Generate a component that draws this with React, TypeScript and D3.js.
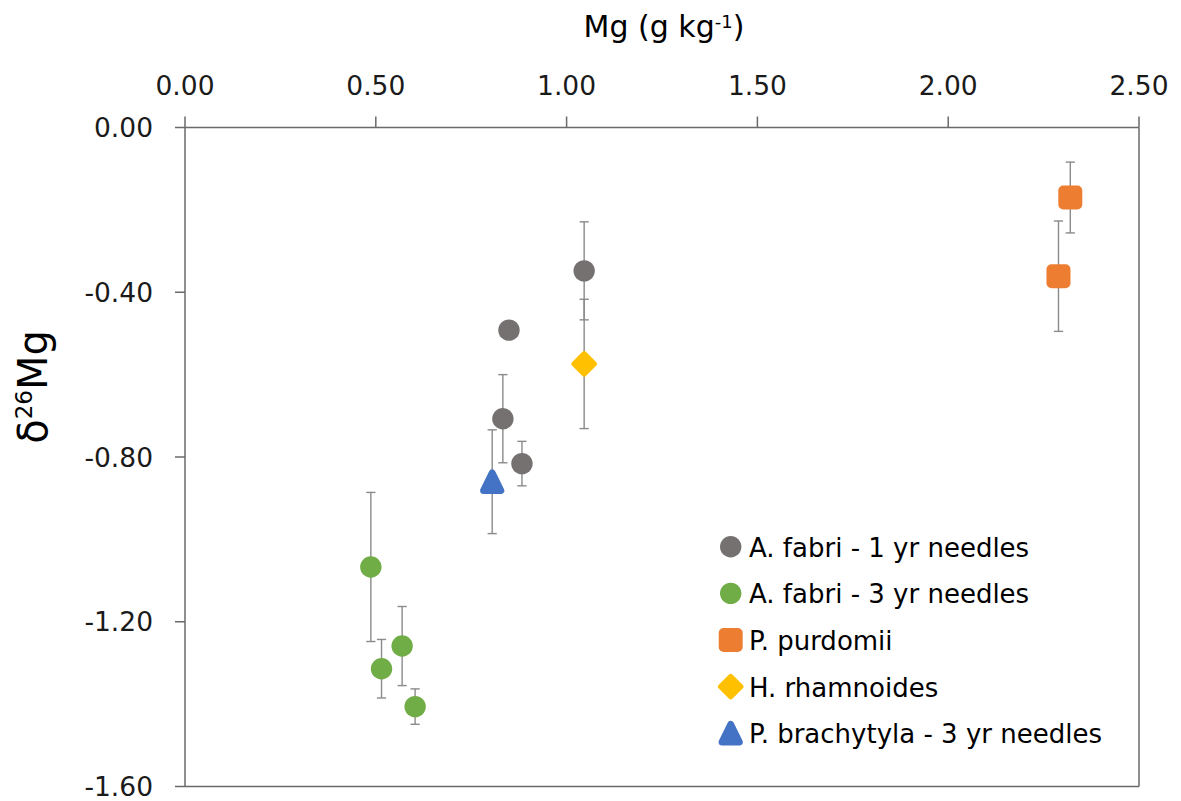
import React from "react";
import * as d3 from "d3";

// Mg concentration (g kg-1) and δ26Mg with ± uncertainty, per species
const fabri1Mg = [1.046, 0.849, 0.833, 0.883];
const fabri1D = [-0.348, -0.492, -0.707, -0.816];
const fabri1Err = [0.119, 0, 0.107, 0.054];

const fabri3Mg = [0.487, 0.515, 0.569, 0.603];
const fabri3D = [-1.067, -1.314, -1.259, -1.406];
const fabri3Err = [0.181, 0.071, 0.096, 0.043];

const purdomiiMg = [2.32, 2.289];
const purdomiiD = [-0.17, -0.361];
const purdomiiErr = [0.086, 0.134];

const rhamnoidesMg = [1.046];
const rhamnoidesD = [-0.574];
const rhamnoidesErr = [0.157];

const brachytylaMg = [0.805];
const brachytylaD = [-0.86];
const brachytylaErr = [0.126];

const xTicks = [0, 0.5, 1.0, 1.5, 2.0, 2.5];
const yTicks = [0, -0.4, -0.8, -1.2, -1.6];

type Shape = "circle" | "square" | "diamond" | "triangle";

const series: {
  name: string;
  color: string;
  shape: Shape;
  mg: number[];
  d: number[];
  err: number[];
}[] = [
  { name: "A. fabri - 1 yr needles", color: "#767171", shape: "circle", mg: fabri1Mg, d: fabri1D, err: fabri1Err },
  { name: "A. fabri - 3 yr needles", color: "#70AD47", shape: "circle", mg: fabri3Mg, d: fabri3D, err: fabri3Err },
  { name: "P. purdomii", color: "#ED7D31", shape: "square", mg: purdomiiMg, d: purdomiiD, err: purdomiiErr },
  { name: "H. rhamnoides", color: "#FFC000", shape: "diamond", mg: rhamnoidesMg, d: rhamnoidesD, err: rhamnoidesErr },
  { name: "P. brachytyla - 3 yr needles", color: "#4472C4", shape: "triangle", mg: brachytylaMg, d: brachytylaD, err: brachytylaErr },
];

const FONT = "'DejaVu Sans', sans-serif";
const AXIS = "#6a6a6a";
const ERR = "#8a8a8a";

const x = d3.scaleLinear().domain([0, 2.5]).range([185, 1139]);
const y = d3.scaleLinear().domain([-1.6, 0]).range([786.5, 127.5]);

function Marker({ shape, cx, cy, color }: { shape: Shape; cx: number; cy: number; color: string }) {
  if (shape === "circle") return <circle cx={cx} cy={cy} r={10.7} fill={color} />;
  if (shape === "square")
    return <rect x={cx - 12} y={cy - 12} width={24} height={24} rx={5} fill={color} />;
  if (shape === "diamond") {
    const h = 10;
    const p = `M${cx},${cy - h}L${cx + h},${cy}L${cx},${cy + h}L${cx - h},${cy}Z`;
    return <path d={p} fill={color} stroke={color} strokeWidth={5.5} strokeLinejoin="round" />;
  }
  // rounded triangle
  const p = `M${cx},${cy - 8.8}L${cx + 8.6},${cy + 8.8}L${cx - 8.6},${cy + 8.8}Z`;
  return <path d={p} fill={color} stroke={color} strokeWidth={7} strokeLinejoin="round" />;
}

export default function App() {
  const legendX = 730.7;
  const legendY0 = 546.7;
  const legendStep = 46.65;

  return (
    <svg
      width={1181}
      height={801}
      style={{ position: "absolute", left: 0, top: 0, background: "#fff" }}
      fontFamily={FONT}
    >
      <rect width={1181} height={801} fill="#fff" />

      {/* plot frame */}
      <line x1={x(0)} x2={x(2.5)} y1={y(0)} y2={y(0)} stroke={AXIS} strokeWidth={1.5} />
      <line x1={x(0)} x2={x(0)} y1={y(0)} y2={y(-1.6)} stroke={AXIS} strokeWidth={1.5} />
      <line x1={x(2.5)} x2={x(2.5)} y1={y(0)} y2={y(-1.6)} stroke={AXIS} strokeWidth={1.5} />
      <line x1={x(0)} x2={x(2.5)} y1={y(-1.6)} y2={y(-1.6)} stroke={AXIS} strokeWidth={1.5} />

      {/* x axis on top */}
      {xTicks.map((t) => (
        <g key={"x" + t}>
          <line x1={x(t)} x2={x(t)} y1={y(0)} y2={y(0) - 11} stroke={AXIS} strokeWidth={1.5} />
          <text x={x(t)} y={95} textAnchor="middle" fontSize={26.5} fill="#1a1a1a">
            {t.toFixed(2)}
          </text>
        </g>
      ))}

      {/* y axis */}
      {yTicks.map((t) => (
        <g key={"y" + t}>
          <line x1={x(0) - 10} x2={x(0)} y1={y(t)} y2={y(t)} stroke={AXIS} strokeWidth={1.5} />
          <text x={153} y={y(t) + 9.5} textAnchor="end" fontSize={26.5} fill="#1a1a1a">
            {t.toFixed(2)}
          </text>
        </g>
      ))}

      {/* axis titles */}
      <text x={664} y={37} textAnchor="middle" fontSize={30} fill="#000">
        Mg (g kg
        <tspan fontSize={18} dy={-9}>-1</tspan>
        <tspan dy={9}>)</tspan>
      </text>
      <text
        transform={`translate(47,387) rotate(-90)`}
        textAnchor="middle"
        fontSize={40}
        fill="#000"
      >
        δ
        <tspan fontSize={23} dy={-15}>26</tspan>
        <tspan dy={15}>Mg</tspan>
      </text>

      {/* error bars */}
      {series.map((s) =>
        s.mg.map((m, i) =>
          s.err[i] > 0 ? (
            <g key={s.name + "e" + i} stroke={ERR} strokeWidth={1.4}>
              <line x1={x(m)} x2={x(m)} y1={y(s.d[i] + s.err[i])} y2={y(s.d[i] - s.err[i])} />
              <line x1={x(m) - 4.6} x2={x(m) + 4.6} y1={y(s.d[i] + s.err[i])} y2={y(s.d[i] + s.err[i])} />
              <line x1={x(m) - 4.6} x2={x(m) + 4.6} y1={y(s.d[i] - s.err[i])} y2={y(s.d[i] - s.err[i])} />
            </g>
          ) : null
        )
      )}

      {/* markers */}
      {series.map((s) =>
        s.mg.map((m, i) => (
          <Marker key={s.name + "m" + i} shape={s.shape} cx={x(m)} cy={y(s.d[i])} color={s.color} />
        ))
      )}

      {/* legend */}
      {series.map((s, i) => {
        const cy = legendY0 + i * legendStep;
        return (
          <g key={"lg" + i}>
            <Marker shape={s.shape} cx={legendX} cy={cy} color={s.color} />
            <text x={749} y={cy + 10} fontSize={26} fill="#000">
              {s.name}
            </text>
          </g>
        );
      })}
    </svg>
  );
}
